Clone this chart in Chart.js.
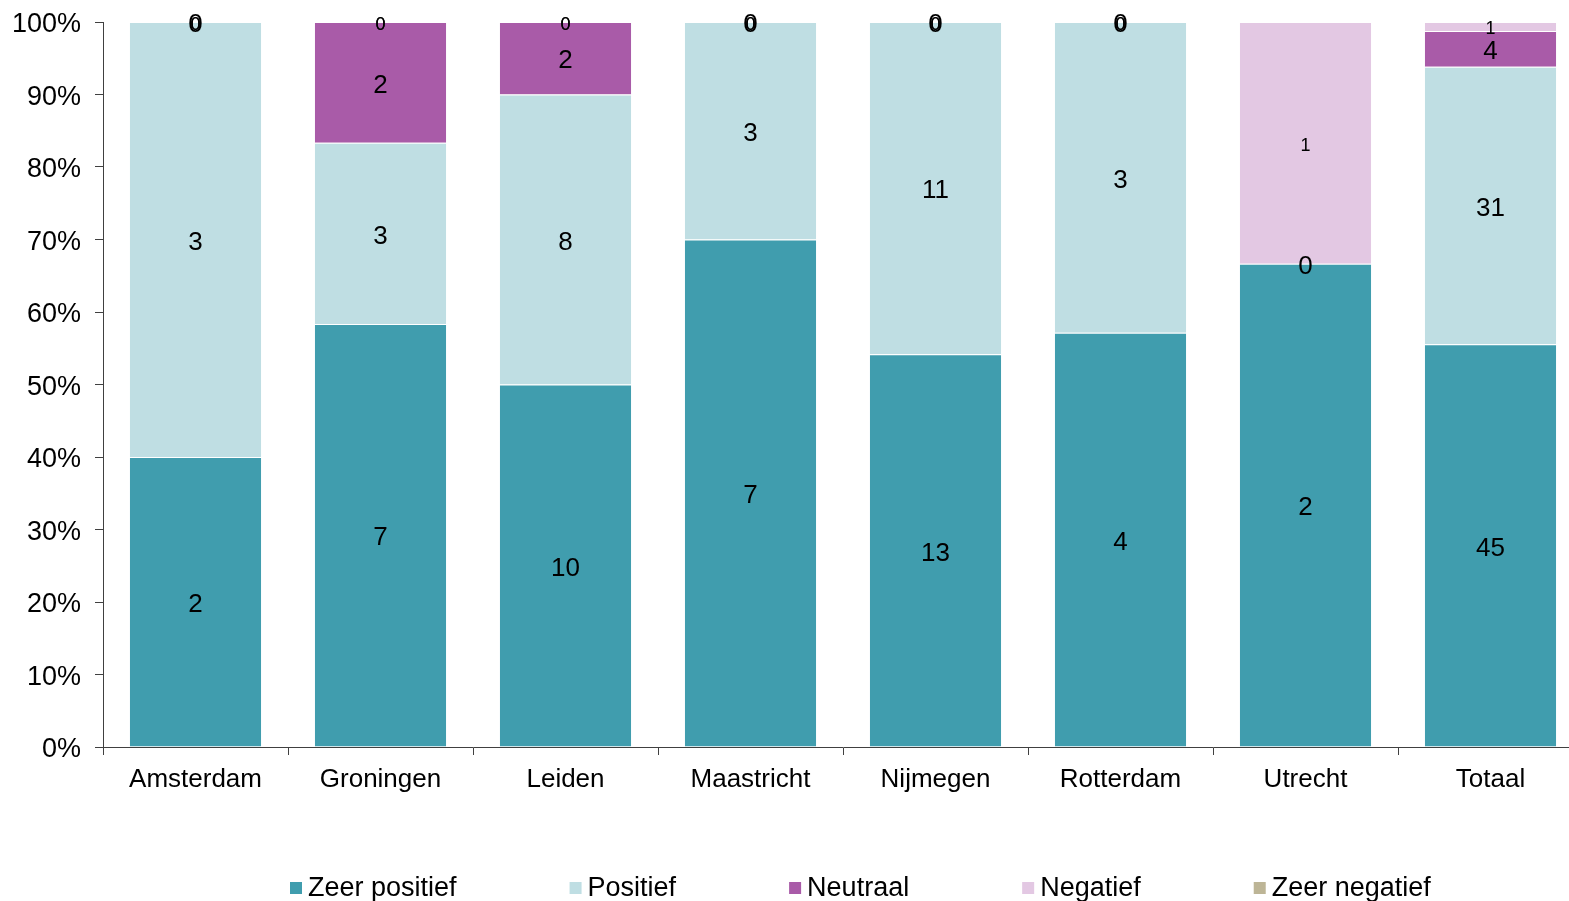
<!DOCTYPE html>
<html>
<head>
<meta charset="utf-8">
<script src="https://cdn.jsdelivr.net/npm/chart.js@4"></script>
<style>
  html, body { margin: 0; padding: 0; background: #fff; overflow: hidden; }
  #wrap { width: 1584px; height: 901px; position: relative; }
</style>
</head>
<body>
<div id="wrap"><canvas id="grafiek"></canvas></div>
<script>
const steden = ["Amsterdam", "Groningen", "Leiden", "Maastricht", "Nijmegen", "Rotterdam", "Utrecht", "Totaal"];
const zeerPositief = [2, 7, 10, 7, 13, 4, 2, 45];
const positief = [3, 3, 8, 3, 11, 3, 0, 31];
const neutraal = [0, 2, 2, 0, 0, 0, null, 4];
const negatief = [0, 0, 0, 0, 0, 0, 1, 1];
const zeerNegatief = [0, 0, 0, 0, 0, 0, null, null];
const yTicks = [0, 10, 20, 30, 40, 50, 60, 70, 80, 90, 100];

const series = [
  { naam: "Zeer positief", waarden: zeerPositief, kleur: "#409DAE", klein: false },
  { naam: "Positief", waarden: positief, kleur: "#BFDEE3", klein: false },
  { naam: "Neutraal", waarden: neutraal, kleur: "#A95BA8", klein: false },
  { naam: "Negatief", waarden: negatief, kleur: "#E3C8E3", klein: true },
  { naam: "Zeer negatief", waarden: zeerNegatief, kleur: "#BDB596", klein: true }
];

const totalen = steden.map((_, i) => series.reduce((s, r) => s + (r.waarden[i] || 0), 0));

const FONT = "'Liberation Sans', Arial, sans-serif";

// Labels met aantallen midden in elk segment
const labelPlugin = {
  id: "aantallen",
  afterDatasetsDraw(chart) {
    const ctx = chart.ctx;
    ctx.save();
    ctx.fillStyle = "#000";
    ctx.textAlign = "center";
    ctx.textBaseline = "middle";
    chart.data.datasets.forEach((ds, di) => {
      const meta = chart.getDatasetMeta(di);
      meta.data.forEach((el, i) => {
        const v = ds.aantallen[i];
        if (v === null || v === undefined) return;
        ctx.font = (ds.klein ? "18px " : "26px ") + FONT;
        ctx.fillText(String(v), el.x, (el.y + el.base) / 2 + 3);
      });
    });
    ctx.restore();
  }
};

// Legenda onderaan met ruime tussenruimte
const legendaPlugin = {
  id: "legenda",
  afterDraw(chart) {
    const ctx = chart.ctx;
    const area = chart.chartArea;
    ctx.save();
    ctx.font = "27px " + FONT;
    ctx.textBaseline = "middle";
    const box = 12, gap = 6, tussen = 113;
    let x = area.left + 187;
    const y = 889;
    chart.data.datasets.forEach(ds => {
      ctx.fillStyle = ds.backgroundColor;
      ctx.fillRect(x, y - box / 2 - 1, box, box);
      ctx.fillStyle = "#000";
      ctx.fillText(ds.label, x + box + gap, y);
      x += box + gap + ctx.measureText(ds.label).width + tussen;
    });
    ctx.restore();
  }
};

new Chart(document.getElementById("grafiek"), {
  type: "bar",
  data: {
    labels: steden,
    datasets: series.map(s => ({
      label: s.naam,
      data: s.waarden.map((v, i) => v === null ? null : v / totalen[i] * 100),
      aantallen: s.waarden,
      klein: s.klein,
      backgroundColor: s.kleur,
      borderColor: "#fff",
      borderWidth: { top: 1, bottom: 0, left: 0, right: 0 },
      borderSkipped: false,
      barPercentage: 0.71,
      categoryPercentage: 1
    }))
  },
  plugins: [labelPlugin, legendaPlugin],
  options: {
    responsive: true,
    maintainAspectRatio: false,
    animation: false,
    layout: { padding: { top: 22, right: 1, left: 0, bottom: 0 } },
    plugins: {
      legend: { display: false },
      tooltip: { enabled: false }
    },
    scales: {
      x: {
        stacked: true,
        offset: true,
        grid: { display: true, offset: true, drawOnChartArea: false, tickLength: 8, color: "#404040" },
        border: { display: true, color: "#404040", width: 1 },
        ticks: { color: "#000", font: { family: FONT, size: 26 }, padding: 9, maxRotation: 0 },
        afterFit(scale) { scale.height = 154; }
      },
      y: {
        stacked: true,
        min: 0,
        max: 100,
        afterBuildTicks(scale) { scale.ticks = yTicks.map(v => ({ value: v })); },
        grid: { display: true, drawOnChartArea: false, tickLength: 8, color: "#404040" },
        border: { display: true, color: "#404040", width: 1 },
        ticks: {
          color: "#000",
          font: { family: FONT, size: 27 },
          padding: 14,
          labelOffset: 3,
          callback: v => v + "%"
        },
        afterFit(scale) {
          scale.width = 103;
          scale.paddingTop = 0;
          scale.paddingBottom = 0;
        }
      }
    }
  }
});
</script>
</body>
</html>
